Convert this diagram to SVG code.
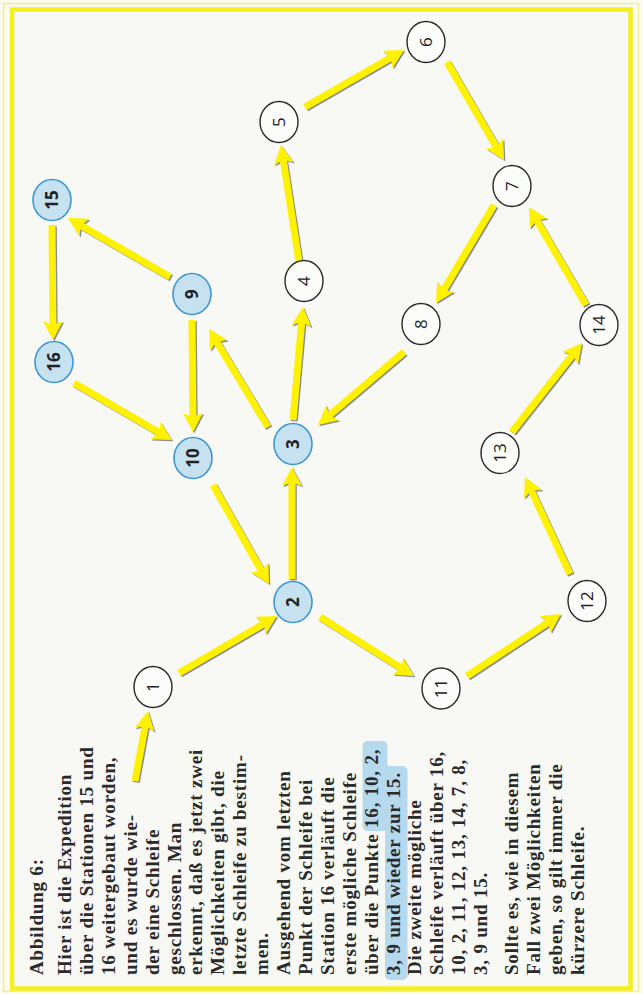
<svg xmlns="http://www.w3.org/2000/svg" xmlns:xlink="http://www.w3.org/1999/xlink" width="643" height="994" viewBox="0 0 643 994">
<style>
.node ellipse{stroke-width:1.4}
.plain ellipse{fill:#fcfcfa;stroke:#2a2a2a}
.blue ellipse{fill:#c6e1f0;stroke:#3c96d4;stroke-width:1.6}
.node text{font-family:"Open Sans","Noto Sans",sans-serif;font-size:17px;fill:#222;text-anchor:middle}
.blue text{font-weight:700}
.caption text{font-family:"Liberation Serif","Times New Roman",serif;font-size:19px;font-weight:700;fill:#2a2a2a;letter-spacing:0.8px}
.hl{fill:#b6d9ee}
</style>
<defs>
<marker id="head" markerUnits="userSpaceOnUse" markerWidth="19" markerHeight="20" viewBox="0 -10 19 20" refX="5" refY="0" orient="auto" overflow="visible">
<path d="M0,-10 L19,0 L0,10 L4,0 Z" fill="#fff200"/>
</marker>
<marker id="head-shadow" markerUnits="userSpaceOnUse" markerWidth="19" markerHeight="20" viewBox="0 -10 19 20" refX="5" refY="0" orient="auto" overflow="visible">
<path d="M0,-10 L19,0 L0,10 L4,0 Z" fill="#8c8c8c"/>
</marker>
</defs>
<rect x="0" y="0" width="643" height="994" fill="#fbfbf0"/>
<rect x="3.5" y="3.5" width="635" height="988" fill="none" stroke="#f2ee8a" stroke-width="1.5"/>
<rect x="12" y="9.5" width="618.5" height="979" fill="#f8f8f4" stroke="#f5ef1e" stroke-width="4.5"/>

<g id="caption" class="caption" transform="translate(0,994) rotate(-90)">
<rect class="hl" x="163" y="362.5" width="90" height="25" rx="5"/>
<rect class="hl" x="14" y="385" width="214" height="22.5" rx="5"/>
<text x="19" y="43">Abbildung 6:</text>
<text x="19" y="71">Hier ist die Expedition</text>
<text x="19" y="92.9">über die Stationen 15 und</text>
<text x="19" y="114.8">16 weitergebaut worden,</text>
<text x="19" y="136.7">und es wurde wie-</text>
<text x="19" y="158.6">der eine Schleife</text>
<text x="19" y="180.5">geschlossen. Man</text>
<text x="19" y="202.4">erkennt, daß es jetzt zwei</text>
<text x="19" y="224.3">Möglichkeiten gibt, die</text>
<text x="19" y="246.2">letzte Schleife zu bestim-</text>
<text x="19" y="268.1">men.</text>
<text x="19" y="290">Ausgehend vom letzten</text>
<text x="19" y="311.9">Punkt der Schleife bei</text>
<text x="19" y="333.8">Station 16 verläuft die</text>
<text x="19" y="355.7">erste mögliche Schleife</text>
<text x="19" y="377.6">über die Punkte 16, 10, 2,</text>
<text x="19" y="399.5">3, 9 und wieder zur 15.</text>
<text x="19" y="421.4">Die zweite mögliche</text>
<text x="19" y="443.3">Schleife verläuft über 16,</text>
<text x="19" y="465.2">10, 2, 11, 12, 13, 14, 7, 8,</text>
<text x="19" y="487.1">3, 9 und 15.</text>
<text x="19" y="518">Sollte es, wie in diesem</text>
<text x="19" y="540">Fall zwei Möglichkeiten</text>
<text x="19" y="562">geben, so gilt immer die</text>
<text x="19" y="584">kürzere Schleife.</text>
</g>

<g id="connectors">
<use xlink:href="#arrow-lines" href="#arrow-lines" transform="translate(1.3,1.3)" stroke="#8c8c8c" marker-end="url(#head-shadow)"/>
<g stroke="#fff200" marker-end="url(#head)">
<g id="arrow-lines" stroke-width="7" fill="none">
<line x1="135" y1="781" x2="145.4" y2="724.8"/>
<line x1="179" y1="673" x2="264.9" y2="623.0"/>
<line x1="320" y1="617" x2="402.1" y2="668.6"/>
<line x1="467" y1="676" x2="549.3" y2="621.7"/>
<line x1="570" y1="574" x2="530.9" y2="489.7"/>
<line x1="512" y1="432" x2="573.3" y2="354.0"/>
<line x1="586" y1="305" x2="536.0" y2="219.1"/>
<line x1="494" y1="205" x2="443.1" y2="291.0"/>
<line x1="404" y1="352" x2="328.7" y2="415.9"/>
<line x1="213" y1="485" x2="262.1" y2="571.8"/>
<line x1="292" y1="579" x2="292" y2="481"/>
<line x1="268" y1="427" x2="216.2" y2="341.0"/>
<line x1="293" y1="420" x2="301.8" y2="321.0"/>
<line x1="299" y1="262" x2="283.1" y2="158.8"/>
<line x1="305" y1="107" x2="391.9" y2="57.0"/>
<line x1="447" y1="62" x2="497.0" y2="147.9"/>
<line x1="192" y1="320" x2="192.9" y2="418"/>
<line x1="170" y1="277" x2="80.1" y2="225.0"/>
<line x1="52" y1="225" x2="52.9" y2="326"/>
<line x1="74" y1="383" x2="159.9" y2="433.0"/>
</g>
</g>
</g>

<g id="n1" class="node plain"><ellipse cx="153" cy="687" rx="19" ry="20.5"/><text x="153" y="687" dy="0.36em" transform="rotate(-90 153 687)">1</text></g>
<g id="n2" class="node blue"><ellipse cx="293" cy="602" rx="19" ry="20.5"/><text x="293" y="602" dy="0.36em" transform="rotate(-90 293 602)">2</text></g>
<g id="n3" class="node blue"><ellipse cx="293" cy="444" rx="19" ry="20.5"/><text x="293" y="444" dy="0.36em" transform="rotate(-90 293 444)">3</text></g>
<g id="n4" class="node plain"><ellipse cx="304" cy="281" rx="19" ry="20.5"/><text x="304" y="281" dy="0.36em" transform="rotate(-90 304 281)">4</text></g>
<g id="n5" class="node plain"><ellipse cx="279" cy="122" rx="19" ry="20.5"/><text x="279" y="122" dy="0.36em" transform="rotate(-90 279 122)">5</text></g>
<g id="n6" class="node plain"><ellipse cx="426" cy="42" rx="19" ry="20.5"/><text x="426" y="42" dy="0.36em" transform="rotate(-90 426 42)">6</text></g>
<g id="n7" class="node plain"><ellipse cx="512" cy="186" rx="19" ry="20.5"/><text x="512" y="186" dy="0.36em" transform="rotate(-90 512 186)">7</text></g>
<g id="n8" class="node plain"><ellipse cx="421" cy="324" rx="19" ry="20.5"/><text x="421" y="324" dy="0.36em" transform="rotate(-90 421 324)">8</text></g>
<g id="n9" class="node blue"><ellipse cx="192" cy="294" rx="19" ry="20.5"/><text x="192" y="294" dy="0.36em" transform="rotate(-90 192 294)">9</text></g>
<g id="n10" class="node blue"><ellipse cx="193" cy="458" rx="19" ry="20.5"/><text x="193" y="458" dy="0.36em" transform="rotate(-90 193 458)">10</text></g>
<g id="n11" class="node plain"><ellipse cx="441" cy="688.5" rx="19" ry="20.5"/><text x="441" y="688.5" dy="0.36em" transform="rotate(-90 441 688.5)">11</text></g>
<g id="n12" class="node plain"><ellipse cx="587" cy="601" rx="19" ry="20.5"/><text x="587" y="601" dy="0.36em" transform="rotate(-90 587 601)">12</text></g>
<g id="n13" class="node plain"><ellipse cx="500" cy="453" rx="19" ry="20.5"/><text x="500" y="453" dy="0.36em" transform="rotate(-90 500 453)">13</text></g>
<g id="n14" class="node plain"><ellipse cx="599" cy="325" rx="19" ry="20.5"/><text x="599" y="325" dy="0.36em" transform="rotate(-90 599 325)">14</text></g>
<g id="n15" class="node blue"><ellipse cx="52" cy="200" rx="19" ry="20.5"/><text x="52" y="200" dy="0.36em" transform="rotate(-90 52 200)">15</text></g>
<g id="n16" class="node blue"><ellipse cx="54" cy="362" rx="19" ry="20.5"/><text x="54" y="362" dy="0.36em" transform="rotate(-90 54 362)">16</text></g>
</svg>
